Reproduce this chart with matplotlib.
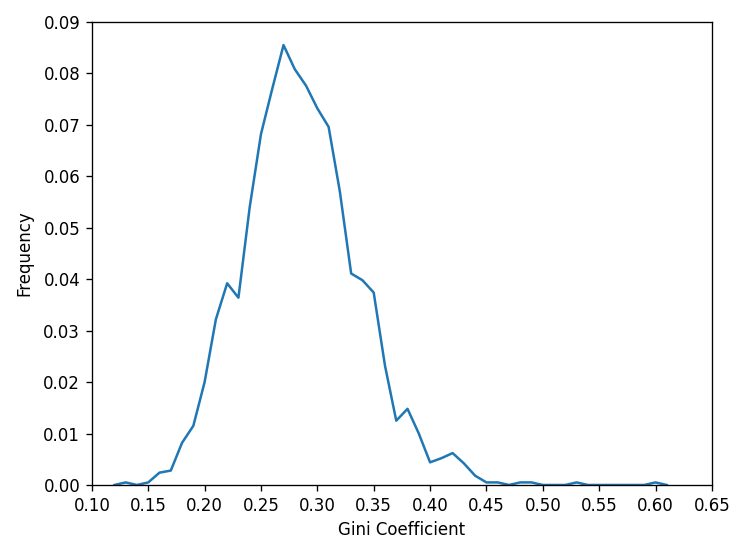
import matplotlib
matplotlib.use("Agg")
import matplotlib.pyplot as plt
import numpy as np

gini = [round(0.12 + 0.01 * i, 2) for i in range(50)]
freq = [0.0, 0.0005, 0.0, 0.0005, 0.0024, 0.0028, 0.0082, 0.0115, 0.0200, 0.0322,
        0.0392, 0.0364, 0.0540, 0.0682, 0.0770, 0.0855, 0.0808, 0.0776, 0.0732, 0.0696,
        0.0570, 0.0411, 0.0398, 0.0374, 0.0232, 0.0125, 0.0148, 0.0100, 0.0044, 0.0052,
        0.0062, 0.0042, 0.0018, 0.0005, 0.0005, 0.0, 0.0005, 0.0005, 0.0, 0.0,
        0.0, 0.0005, 0.0, 0.0, 0.0, 0.0, 0.0, 0.0, 0.0005, 0.0]

DPI = 120
fig = plt.figure(figsize=(747 / DPI, 548 / DPI), dpi=DPI)
ax = fig.add_axes([0.123, 0.115, 0.830, 0.845])
ax.plot(gini, freq, color="#1f77b4", linewidth=1.5)
ax.set_xlim(0.10, 0.65)
ax.set_ylim(0, 0.09)
ax.set_xticks(np.arange(0.10, 0.651, 0.05))
ax.set_xticklabels([f"{v:.2f}" for v in np.arange(0.10, 0.651, 0.05)])
ax.set_yticks(np.arange(0, 0.0901, 0.01))
ax.set_yticklabels([f"{v:.2f}" for v in np.arange(0, 0.0901, 0.01)])
ax.set_xlabel("Gini Coefficient")
ax.set_ylabel("Frequency", labelpad=6)
fig.savefig("out.png", dpi=DPI)
